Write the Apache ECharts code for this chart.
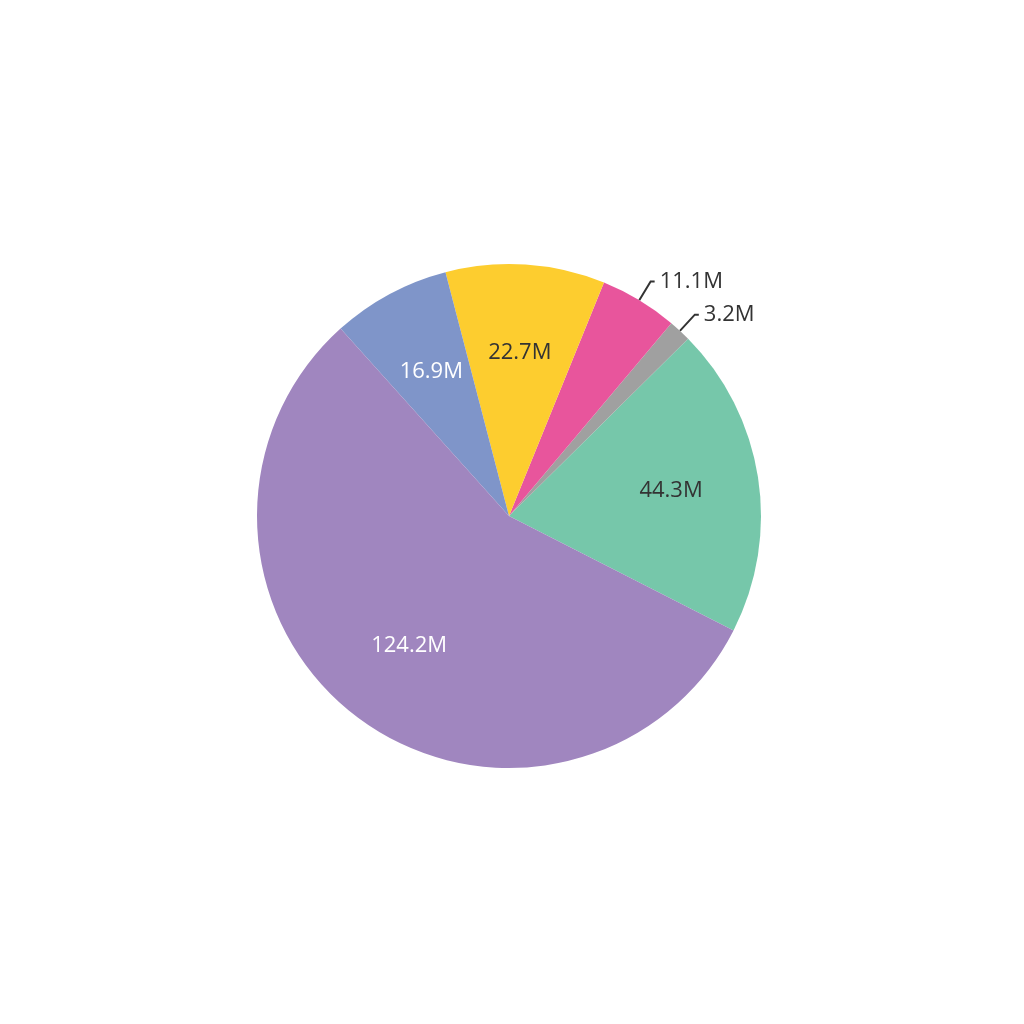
<!DOCTYPE html>
<html><head><meta charset="utf-8">
<script src="https://cdn.jsdelivr.net/npm/echarts@6/dist/echarts.min.js"></script>
<style>html,body{margin:0;background:#fff}#c{width:1024px;height:1024px}</style>
</head><body><div id="c"></div>
<script>
const categories = ['A','B','C','D','E','F'];
const values = [44.3, 3.2, 11.1, 22.7, 16.9, 124.2];
const labels = ['44.3M','3.2M','11.1M','22.7M','16.9M','124.2M'];
const colors = ['#76c7aa','#a0a0a0','#e8559c','#fdcd2f','#7f95c9','#a086bf'];
const outside = [false,true,true,false,false,false];
const whiteText = [false,false,false,false,true,true];
const font = {fontFamily:'Open Sans', fontSize:22};
const chart = echarts.init(document.getElementById('c'));
const base = {type:'pie', center:[509,516], clockwise:false, startAngle:-27, animation:false, silent:true};
chart.setOption({
  series:[
    Object.assign({}, base, {
      radius:[0,252],
      data: values.map((v,i)=>({name:categories[i], value:v,
        itemStyle:{color:colors[i]},
        label: outside[i] ? Object.assign({show:true, position:'outside', formatter:labels[i], color:'#333', padding:[0,0,0,0]}, font) : {show:false},
        labelLine: outside[i] ? {show:true, length:22, length2:4, lineStyle:{color:'#333', width:2}} : {show:false}
      }))
    }),
    Object.assign({}, base, {
      radius:[70,252], z:5,
      data: values.map((v,i)=>({name:categories[i], value:v,
        itemStyle:{color:'transparent'},
        label: outside[i] ? {show:false} : Object.assign({show:true, position:'inside', formatter:labels[i], color: whiteText[i] ? '#fff' : '#333'}, font),
        labelLine:{show:false}
      }))
    })
  ]
});
</script></body></html>
